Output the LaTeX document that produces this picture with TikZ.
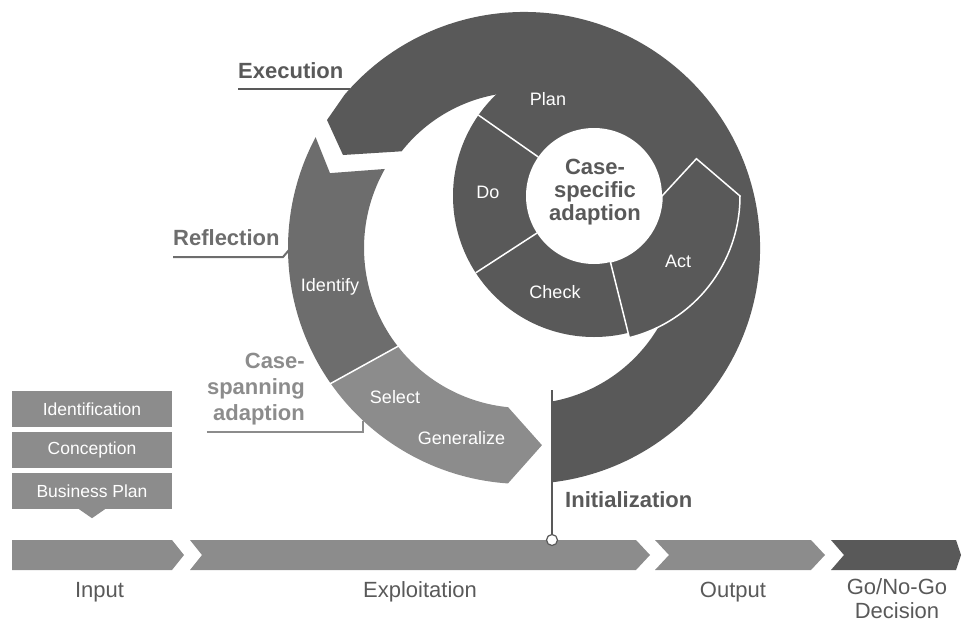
\documentclass[tikz,border=0pt]{standalone}
\usepackage{fontspec}
\setmainfont{Liberation Sans}
\definecolor{darkgr}{HTML}{595959}
\definecolor{midgr}{HTML}{6D6D6D}
\definecolor{lightgr}{HTML}{8C8C8C}

\begin{document}
\begin{tikzpicture}[x=1pt,y=-1pt,
  intext/.style={text=white,inner sep=0pt,font=\fontsize{18}{20}\selectfont},
  headtext/.style={inner sep=0pt,font=\fontsize{22}{26}\selectfont\bfseries},
  phasetext/.style={text=darkgr,inner sep=0pt,font=\fontsize{22}{24}\selectfont},
  stepbox/.style={fill=lightgr,text=white,minimum width=160pt,minimum height=36pt,inner sep=0pt,font=\fontsize{17.5}{20}\selectfont},
  divider/.style={white,line width=1.5pt},
  leader/.style={line width=2pt}]
\useasboundingbox (0,0) rectangle (962,624);
\coordinate (hub) at (524,248);
\coordinate (pdca) at (594,196);

\fill[darkgr] (552,482.3) arc[start angle=83.2,end angle=-139.5,radius=236]
  -- (327,120) -- (343,155) -- (401.6,151.3)
  arc[start angle=-141.7,end angle=79.7,radius=156] -- cycle;
\fill[darkgr] (pdca) circle (141);
\fill[white] (pdca) circle (68);
\draw[divider] ([shift={(pdca)}]-145:68) -- ([shift={(pdca)}]-145:141);
\draw[divider] ([shift={(pdca)}]147:68) -- ([shift={(pdca)}]147:141);
\draw[divider,fill=darkgr] ([shift={(pdca)}]76:68) -- ([shift={(pdca)}]76:146)
  arc[start angle=76,end angle=0,radius=146] -- ([shift={(pdca)}]-20:109)
  -- ([shift={(pdca)}]0:68) arc[start angle=0,end angle=76,radius=68] -- cycle;

\fill[midgr] ([shift={(hub)}]-152:236) arc[start angle=-152,end angle=-215,radius=236]
  -- ([shift={(hub)}]-218:160) arc[start angle=-218,end angle=-150.4,radius=160]
  -- ([shift={(hub)}]-158.9:208) -- cycle;
\fill[lightgr] ([shift={(hub)}]-215:236) arc[start angle=-215,end angle=-266.1,radius=236]
  -- ([shift={(hub)}]-275.2:198) -- ([shift={(hub)}]-264.3:160)
  arc[start angle=-264.3,end angle=-218,radius=160] -- cycle;
\draw[divider] ([shift={(hub)}]-215:237) -- ([shift={(hub)}]-218:159);

\fill[lightgr] (12,540) -- (172,540) -- (184,555) -- (172,570) -- (12,570) -- cycle;
\fill[lightgr] (190,540) -- (636,540) -- (650,555) -- (636,570) -- (190,570) -- (202,555) -- cycle;
\fill[lightgr] (655,540) -- (811,540) -- (825,555) -- (811,570) -- (655,570) -- (669,555) -- cycle;
\fill[darkgr] (831,540) -- (956,540) -- (961,555) -- (956,570) -- (831,570) -- (844,555) -- cycle;

\node[stepbox] (ident) at (92,409) {Identification};
\node[stepbox] (concept) at (92,450) {Conception};
\node[stepbox] (bizplan) at (92,491) {Business Plan};
\fill[lightgr] ([xshift=-13pt]bizplan.south) -- ([xshift=13pt]bizplan.south) -- ([yshift=-9pt]bizplan.south) -- cycle;

\coordinate (initend) at (552,390);
\node[circle,draw=darkgr,fill=white,line width=1.2pt,minimum size=11pt,inner sep=0pt] (initdot) at (552,540) {};
\draw[darkgr,line width=1.5pt] (initend) -- (initdot);
\node[headtext,text=darkgr,anchor=base west] (init) at (565,507) {Initialization};

\node[headtext,text=darkgr,anchor=base west] (exec) at (238,78) {Execution};
\coordinate (execend) at (349.6,89);
\draw[leader,darkgr] (exec.west |- execend) -- (execend);

\node[headtext,text=midgr,anchor=base west] (refl) at (173,245) {Reflection};
\coordinate (reflknee) at (283,257);
\coordinate (reflend) at (289,250);
\draw[leader,midgr] (refl.west |- reflknee) -- (reflknee) -- (reflend);

\node[headtext,text=lightgr,align=right,anchor=east] (span) at (305,389.4) {Case-\\spanning\\adaption};
\coordinate (spanknee) at (363,432);
\coordinate (spanend) at (363,420.6);
\draw[leader,lightgr] (span.west |- spanknee) -- (spanknee) -- (spanend);

\node[headtext,text=darkgr,align=center,font=\fontsize{22}{23}\selectfont\bfseries] (casespec) at (595,192.4) {Case-\\specific\\adaption};

\node[intext,anchor=base] (planlbl) at (548,105) {Plan};
\node[intext,anchor=base] (dolbl) at (488,198) {Do};
\node[intext,anchor=base] (checklbl) at (555,298) {Check};
\node[intext,anchor=base] (actlbl) at (678,267) {Act};
\node[intext,anchor=base] (identlbl) at (330,291) {Identify};
\node[intext,anchor=base] (selectlbl) at (395,403) {Select};
\node[intext,anchor=base] (genlbl) at (461.5,444) {Generalize};

\node[phasetext,anchor=base] (input) at (99.5,597) {Input};
\node[phasetext,anchor=base] (exploit) at (420,597) {Exploitation};
\node[phasetext,anchor=base] (output) at (733,597) {Output};
\node[phasetext,align=center] (gonogo) at (897,598.5) {Go/No-Go\\Decision};
\end{tikzpicture}
\end{document}
